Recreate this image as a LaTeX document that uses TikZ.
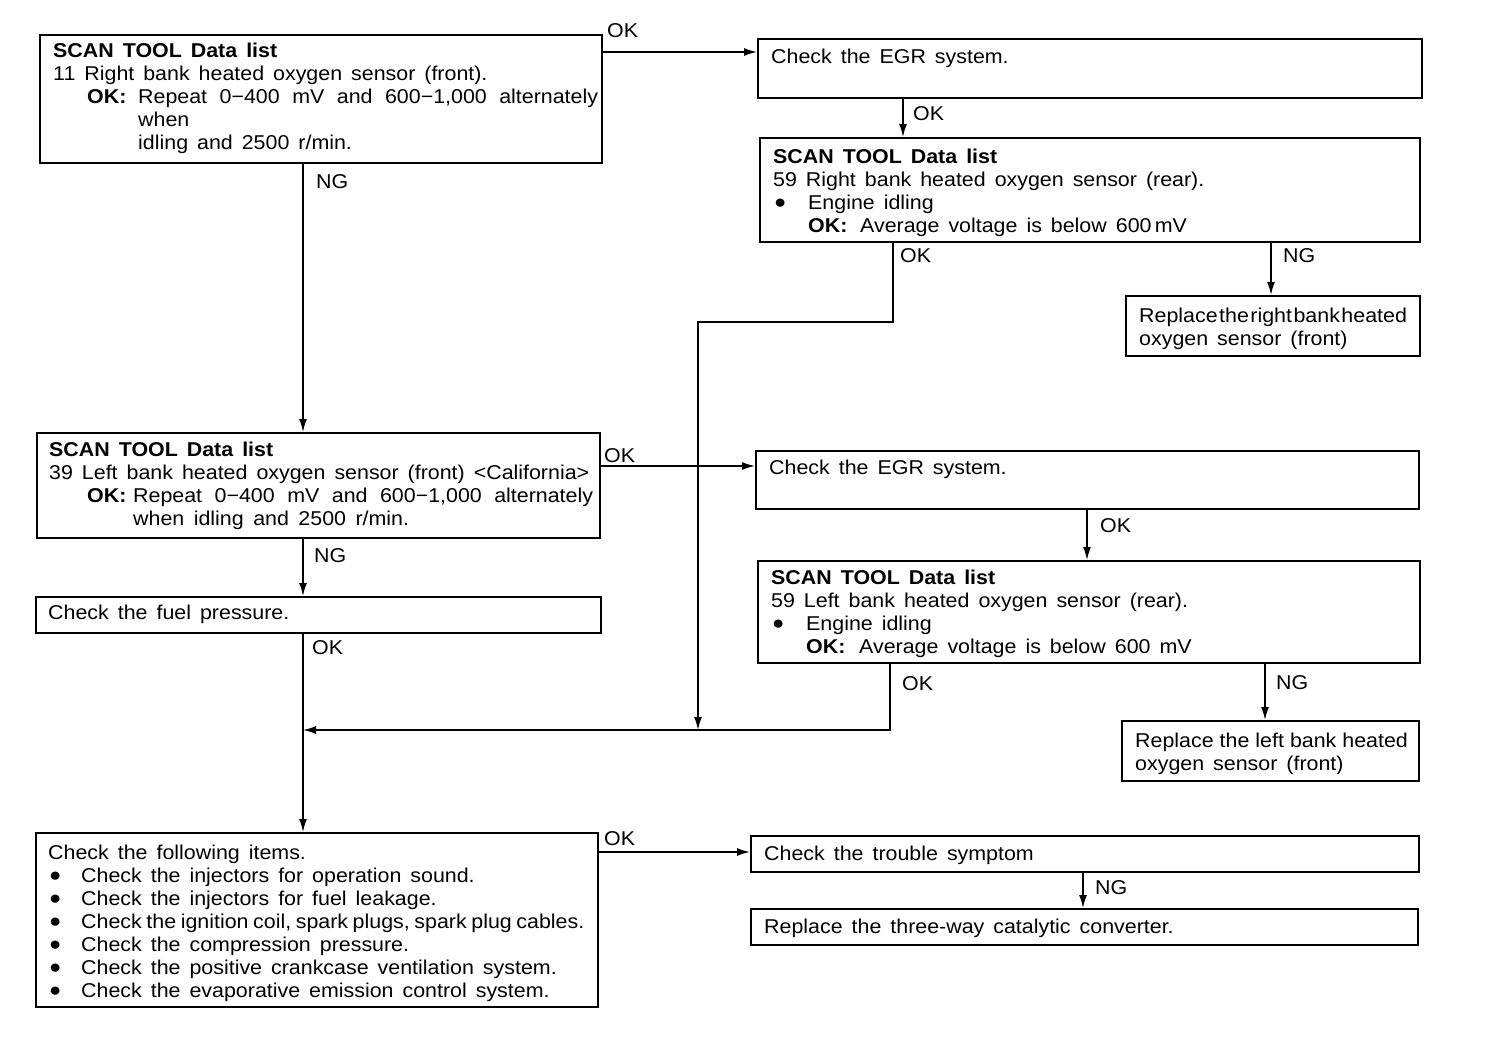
\documentclass[tikz,border=0pt]{standalone}
\usepackage{fontspec}
\setmainfont{Liberation Sans}[FakeStretch=1.07]
\usetikzlibrary{arrows.meta}
\newcommand\mybul{\makebox[33pt][l]{\hspace{1pt}\raisebox{1pt}{\fontsize{19}{19}\selectfont ●}}}
\newcommand\mybulw{\makebox[35pt][l]{\hspace{1pt}\raisebox{1pt}{\fontsize{19}{19}\selectfont ●}}}
\newcommand\wsp[1]{\spaceskip=#1 plus 1pt minus 1pt\relax}
\newcommand\txtfont{\fontsize{20}{23}\selectfont\wsp{9pt}}
\begin{document}
\begin{tikzpicture}[x=1pt,y=-1pt,
  box/.style={draw, line width=1.8pt, inner sep=0pt, anchor=north west},
  txt/.style={inner sep=0pt, anchor=base west, font=\txtfont},
  lbl/.style={inner sep=0pt, anchor=base west, font=\fontsize{20}{23}\selectfont},
  arr/.style={line width=1.6pt, -{Latex[length=13pt,width=8pt]}},
  ln/.style={line width=1.6pt}]
\fill[white] (0,0) rectangle (1504,1060);
\useasboundingbox (0,0) rectangle (1504,1060);

% boxes
\node[box, minimum width=562pt, minimum height=128pt] (A) at (39,34) {};
\node[box, minimum width=664pt, minimum height=59pt]  (B) at (757,38) {};
\node[box, minimum width=660pt, minimum height=104pt] (C) at (759,137) {};
\node[box, minimum width=294pt, minimum height=60pt]  (D) at (1125,295) {};
\node[box, minimum width=563pt, minimum height=105pt] (E) at (36,432) {};
\node[box, minimum width=663pt, minimum height=58pt]  (F) at (755,450) {};
\node[box, minimum width=662pt, minimum height=102pt] (G) at (757,560) {};
\node[box, minimum width=297pt, minimum height=60pt]  (H) at (1121,720) {};
\node[box, minimum width=565pt, minimum height=36pt]  (I) at (35,596) {};
\node[box, minimum width=562pt, minimum height=174pt] (J) at (35,832) {};
\node[box, minimum width=668pt, minimum height=36pt]  (K) at (750,835) {};
\node[box, minimum width=667pt, minimum height=36pt]  (L) at (750,908) {};

% texts
\node[txt] (At) at (53,57) {\parbox[t]{560pt}{\textbf{SCAN TOOL Data list}\\
11 Right bank heated oxygen sensor (front).\\
\hspace*{34pt}\makebox[51pt][l]{\textbf{OK:}}{\wsp{12.5pt}Repeat 0−400 mV and 600−1,000 alternately}\\
\hspace*{85pt}when\\
\hspace*{85pt}idling and 2500 r/min.}};
\node[txt] (Bt) at (771,63) {Check the EGR system.};
\node[txt] (Ct) at (773,163) {\parbox[t]{640pt}{\textbf{SCAN TOOL Data list}\\
59 Right bank heated oxygen sensor (rear).\\
\mybulw Engine idling\\
\hspace*{35pt}\makebox[52pt][l]{\textbf{OK:}}Average voltage is below 600\,mV}};
\node[txt] (Dt) at (1139,322) {\parbox[t]{290pt}{{\wsp{1.5pt}Replace the right bank heated}\\
oxygen sensor (front)}};
\node[txt] (Et) at (49,456) {\parbox[t]{560pt}{\textbf{SCAN TOOL Data list}\\
39 Left bank heated oxygen sensor (front) <California>\\
\hspace*{38pt}\makebox[46pt][l]{\textbf{OK:}}{\wsp{12.5pt}Repeat 0−400 mV and 600−1,000 alternately}\\
\hspace*{84pt}{\wsp{9.5pt}when idling and 2500 r/min.}}};
\node[txt] (Ft) at (769,474) {Check the EGR system.};
\node[txt] (Gt) at (771,584) {\parbox[t]{640pt}{\textbf{SCAN TOOL Data list}\\
59 Left bank heated oxygen sensor (rear).\\
\mybulw Engine idling\\
\hspace*{35pt}\makebox[53pt][l]{\textbf{OK:}}Average voltage is below 600 mV}};
\node[txt] (Ht) at (1135,747) {\parbox[t]{290pt}{{\wsp{6pt}Replace the left bank heated}\\
oxygen sensor (front)}};
\node[txt] (It) at (48,619) {Check the fuel pressure.};
\node[txt] (Jt) at (48,859) {\parbox[t]{560pt}{Check the following items.\\
\mybul Check the injectors for operation sound.\\
\mybul Check the injectors for fuel leakage.\\
\mybul {\wsp{4.6pt}Check the ignition coil, spark plugs, spark plug cables.}\\
\mybul Check the compression pressure.\\
\mybul Check the positive crankcase ventilation system.\\
\mybul Check the evaporative emission control system.}};
\node[txt] (Kt) at (764,860) {Check the trouble symptom};
\node[txt] (Lt) at (764,933) {Replace the three-way catalytic converter.};

% connector points
\coordinate (pAB) at ([yshift=-18pt]A.north east);
\coordinate (pBC) at ([xshift=146pt]B.south west);
\coordinate (pC1) at ([xshift=134pt]C.south west);
\coordinate (jC) at (698,322);
\coordinate (mrg) at (303,730);
\coordinate (pCD) at ([xshift=512pt]C.south west);
\coordinate (pAE) at ([xshift=264pt]A.south west);
\coordinate (pEF) at ([yshift=-34pt]E.north east);
\coordinate (pFG) at ([xshift=332pt]F.south west);
\coordinate (pG1) at ([xshift=133pt]G.south west);
\coordinate (pGH) at ([xshift=508pt]G.south west);
\coordinate (pEI) at ([xshift=267pt]E.south west);
\coordinate (pIJ) at ([xshift=268pt]I.south west);
\coordinate (pJK) at ([yshift=-20pt]J.north east);
\coordinate (pKL) at ([xshift=333pt]K.south west);

% connectors
\draw[arr] (pAB) -- (pAB -| B.west);
\draw[arr] (pBC) -- (pBC |- C.north);
\draw[arr] (pC1) -- (pC1 |- jC) -- (jC) -- (jC |- mrg);
\draw[arr] (pCD) -- (pCD |- D.north);
\draw[arr] (pAE) -- (pAE |- E.north);
\draw[arr] (pEF) -- (pEF -| F.west);
\draw[arr] (pFG) -- (pFG |- G.north);
\draw[arr] (pG1) -- (pG1 |- mrg) -- (mrg);
\draw[arr] (pGH) -- (pGH |- H.north);
\draw[arr] (pEI) -- (pEI |- I.north);
\draw[arr] (pIJ) -- (pIJ |- J.north);
\draw[arr] (pJK) -- (pJK -| K.west);
\draw[arr] (pKL) -- (pKL |- L.north);

% labels
\node[lbl] (lAB) at (607,37) {OK};
\node[lbl] (lBC) at (913,120) {OK};
\node[lbl] (lC1) at (900,262) {OK};
\node[lbl] (lCD) at (1283,262) {NG};
\node[lbl] (lAE) at (316,188) {NG};
\node[lbl] (lEF) at (604,462) {OK};
\node[lbl] (lFG) at (1100,532) {OK};
\node[lbl] (lG1) at (902,690) {OK};
\node[lbl] (lGH) at (1276,689) {NG};
\node[lbl] (lEI) at (314,562) {NG};
\node[lbl] (lIJ) at (312,654) {OK};
\node[lbl] (lJK) at (604,845) {OK};
\node[lbl] (lKL) at (1095,894) {NG};
\end{tikzpicture}
\end{document}
